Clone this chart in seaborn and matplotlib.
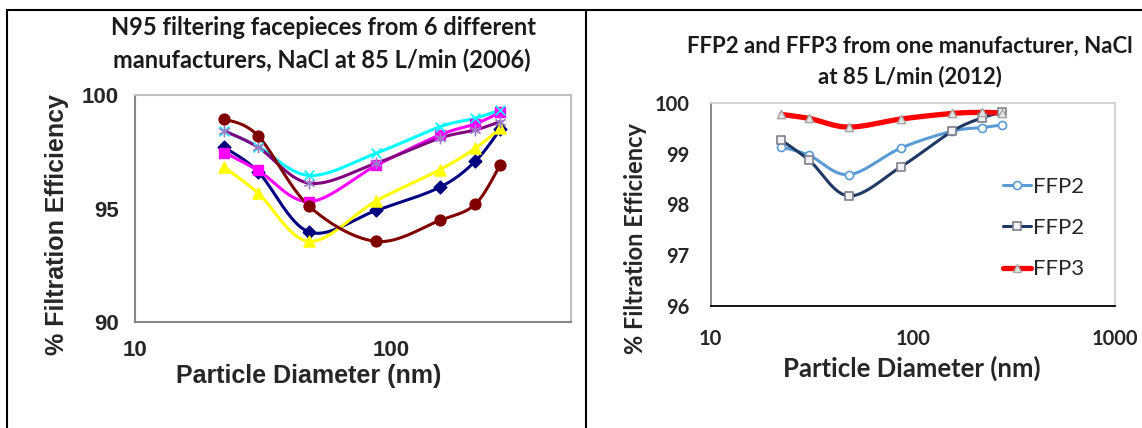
import numpy as np
import seaborn as sns
import matplotlib.pyplot as plt
from matplotlib.lines import Line2D
from matplotlib.ticker import LogLocator, FixedLocator, MultipleLocator, NullFormatter, FuncFormatter

# particle diameters (nm)
diam_2006 = [22.3, 30.2, 47.8, 87.1, 154, 212, 265]
diam_2012 = [22.4, 30.8, 48.2, 87.6, 156.7, 218.8, 274]

# N95, 6 manufacturers (2006), % filtration efficiency
n95_navy = [97.70, 96.62, 93.97, 94.92, 95.94, 97.09, 98.49]
n95_magenta = [97.47, 96.68, 95.31, 96.90, 98.24, 98.73, 99.24]
n95_yellow = [96.82, 95.68, 93.56, 95.34, 96.71, 97.66, 98.54]
n95_cyan = [98.42, 97.73, 96.46, 97.44, 98.60, 98.98, 99.34]
n95_purple = [98.42, 97.70, 96.12, 97.00, 98.10, 98.46, 98.83]
n95_brown = [98.95, 98.20, 95.10, 93.56, 94.48, 95.20, 96.93]

# FFP2 / FFP3 from one manufacturer (2012)
ffp2_a = [99.14, 98.97, 98.59, 99.12, 99.45, 99.52, 99.57]
ffp2_b = [99.27, 98.87, 98.17, 98.75, 99.45, 99.71, 99.82]
ffp3 = [99.78, 99.70, 99.53, 99.69, 99.80, 99.82, 99.81]

W, H = 1142, 428


def smooth(x, y, n=24):
    # Excel-like smoothed line (Catmull-Rom in log-x / y space)
    u = np.log10(np.asarray(x, float))
    v = np.asarray(y, float)
    u = np.r_[u[0], u, u[-1]]
    v = np.r_[v[0], v, v[-1]]
    t = np.linspace(0, 1, n)[:, None]
    out = []
    for i in range(1, len(u) - 2):
        p = np.array([[u[i - 1], v[i - 1]], [u[i], v[i]], [u[i + 1], v[i + 1]], [u[i + 2], v[i + 2]]])
        c0 = p[1]
        c1 = p[1] + (p[2] - p[0]) / 6
        c2 = p[2] - (p[3] - p[1]) / 6
        c3 = p[2]
        seg = (1 - t) ** 3 * c0 + 3 * (1 - t) ** 2 * t * c1 + 3 * (1 - t) * t ** 2 * c2 + t ** 3 * c3
        out.append(seg if i == 1 else seg[1:])
    out = np.vstack(out)
    return 10 ** out[:, 0], out[:, 1]


def series(ax, x, y, color, lw, marker, ms, mfc, mec, mew=1.0, z=2):
    xs, ys = smooth(x, y)
    sns.lineplot(x=xs, y=ys, ax=ax, color=color, lw=lw, sort=False, estimator=None, zorder=z)
    sns.scatterplot(x=x, y=y, ax=ax, marker=marker, s=ms ** 2, facecolor=mfc,
                    edgecolor=mec, linewidth=mew, zorder=z + 0.5)


sns.set_style("white")
plt.rcParams['font.family'] = ['Lato', 'DejaVu Sans']

fig = plt.figure(figsize=(W / 100, H / 100), dpi=100)
ax1 = fig.add_axes([135 / W, 1 - 322.3 / H, 436 / W, 227.3 / H])
ax2 = fig.add_axes([710.5 / W, 1 - 305.7 / H, 404.9 / W, 202.4 / H])

# ---------- left panel ----------
ax1.set_xscale('log')
series(ax1, diam_2006, n95_navy, '#000080', 2.2, 'D', 6.5, '#000080', '#000080')
series(ax1, diam_2006, n95_magenta, '#FF00FF', 2.2, 's', 7, '#FF00FF', '#FF00FF')
series(ax1, diam_2006, n95_yellow, '#FFFF00', 2.2, '^', 8, '#FFFF00', '#FFFF00')
series(ax1, diam_2006, n95_cyan, '#00FFFF', 2.2, 'x', 7, '#00FFFF', '#00FFFF', mew=1.2)
series(ax1, diam_2006, n95_purple, '#800080', 2.2, (6, 2, 0), 7.5, '#9A7FC8', '#9A7FC8', mew=1.0)
series(ax1, diam_2006, n95_brown, '#800000', 2.2, 'o', 7.8, '#800000', '#800000')

ax1.set_xlim(10, 500)
ax1.set_ylim(90, 100)
ax1.xaxis.set_major_locator(FixedLocator([10, 100]))
ax1.xaxis.set_minor_locator(LogLocator(base=10, subs=np.arange(2, 10)))
ax1.xaxis.set_minor_formatter(NullFormatter())
ax1.xaxis.set_major_formatter(FuncFormatter(lambda v, p: f"{v:g}"))
ax1.yaxis.set_major_locator(FixedLocator([90, 95, 100]))
ax1.yaxis.set_minor_locator(MultipleLocator(1))
for s in ['left', 'bottom']:
    ax1.spines[s].set_color('#868686')
    ax1.spines[s].set_linewidth(1.5)
for s in ['top', 'right']:
    ax1.spines[s].set_color('#c0c0c0')
    ax1.spines[s].set_linewidth(1.5)
ax1.tick_params(axis='both', which='both', direction='inout', color='#868686', width=1)
ax1.tick_params(axis='x', which='both', length=6, pad=10)
ax1.tick_params(axis='y', which='both', length=7, pad=8)
ax1.tick_params(labelsize=16)
for lab in ax1.get_xticklabels() + ax1.get_yticklabels():
    lab.set_fontfamily('Liberation Sans')
    lab.set_fontweight('bold')
ax1.set_xlabel('Particle Diameter (nm)', family='Liberation Sans', weight='bold', size=18, va='baseline')
ax1.xaxis.set_label_coords(0.399, -0.267)
ax1.set_ylabel('% Filtration Efficiency', family='Liberation Sans', weight='bold', size=18, va='center')
ax1.yaxis.set_label_coords(-0.178, 0.432)

fig.text(323 / W, 1 - 35 / H, 'N95 filtering facepieces from 6 different',
         ha='center', va='baseline', size=17, weight='bold', color='#1a1a1a')
fig.text(322 / W, 1 - 68 / H, 'manufacturers, NaCl at 85 L/min (2006)',
         ha='center', va='baseline', size=17, weight='bold', color='#1a1a1a')

# ---------- right panel ----------
ax2.set_xscale('log')
series(ax2, diam_2012, ffp2_a, '#5B9BD5', 2.2, 'o', 5.8, 'white', '#5B9BD5', mew=1.2)
series(ax2, diam_2012, ffp2_b, '#1F3864', 2.2, 's', 5.5, '#f2f2f2', '#7f7f8f', mew=1.2)
series(ax2, diam_2012, ffp3, '#FF0000', 3.8, '^', 6, '#e6e6e6', '#a6a6a6', mew=1.0)

ax2.set_xlim(10, 1000)
ax2.set_ylim(96, 100)
ax2.xaxis.set_major_locator(FixedLocator([10, 100, 1000]))
ax2.xaxis.set_minor_locator(LogLocator(base=10, subs=np.arange(2, 10)))
ax2.xaxis.set_minor_formatter(NullFormatter())
ax2.xaxis.set_major_formatter(FuncFormatter(lambda v, p: f"{v:g}"))
ax2.yaxis.set_major_locator(MultipleLocator(1))
ax2.spines['left'].set_color('#7f7f7f')
ax2.spines['bottom'].set_color('black')
for s in ['top', 'right']:
    ax2.spines[s].set_color('#d0d0d0')
for s in ax2.spines:
    ax2.spines[s].set_linewidth(1.3)
ax2.tick_params(axis='x', which='both', direction='inout', length=8, width=1, color='black', pad=13)
ax2.tick_params(axis='y', which='both', length=0, pad=15)
ax2.tick_params(labelsize=14.5)
for lab in ax2.get_xticklabels() + ax2.get_yticklabels():
    lab.set_fontweight('bold')
ax2.set_xlabel('Particle Diameter (nm)', weight='bold', size=18.5, va='baseline')
ax2.xaxis.set_label_coords(0.4977, -0.352)
ax2.set_ylabel('% Filtration Efficiency', weight='bold', size=17, va='center')
ax2.yaxis.set_label_coords(-0.184, 0.334)

handles = [
    Line2D([], [], color='#5B9BD5', lw=2.2, marker='o', ms=5.8, mfc='white', mec='#5B9BD5', mew=1.2),
    Line2D([], [], color='#1F3864', lw=2.2, marker='s', ms=5.5, mfc='#f2f2f2', mec='#7f7f8f', mew=1.2),
    Line2D([], [], color='#FF0000', lw=3.8, marker='^', ms=6, mfc='#e6e6e6', mec='#a6a6a6', mew=1.0),
]
ax2.legend(handles, ['FFP2', 'FFP2', 'FFP3'], loc='center left', bbox_to_anchor=(1003 / W, 1 - 228 / H),
           bbox_transform=fig.transFigure, frameon=False, fontsize=16, borderpad=0, borderaxespad=0,
           handlelength=1.25, handletextpad=0.12, labelspacing=0.96)

fig.text(910 / W, 1 - 53 / H, 'FFP2 and FFP3 from one manufacturer, NaCl',
         ha='center', va='baseline', size=16, weight='bold', color='#1a1a1a')
fig.text(910 / W, 1 - 83.5 / H, 'at 85 L/min (2012)',
         ha='center', va='baseline', size=16, weight='bold', color='#1a1a1a')

# outer frame lines
fig.add_artist(Line2D([7 / W, 1], [1 - 10 / H, 1 - 10 / H], transform=fig.transFigure, color='black', lw=1.5))
fig.add_artist(Line2D([7 / W, 7 / W], [0, 1 - 10 / H], transform=fig.transFigure, color='black', lw=1.5))
fig.add_artist(Line2D([586 / W, 586 / W], [0, 1 - 10 / H], transform=fig.transFigure, color='black', lw=1.5))

fig.savefig('out.png', dpi=100)
